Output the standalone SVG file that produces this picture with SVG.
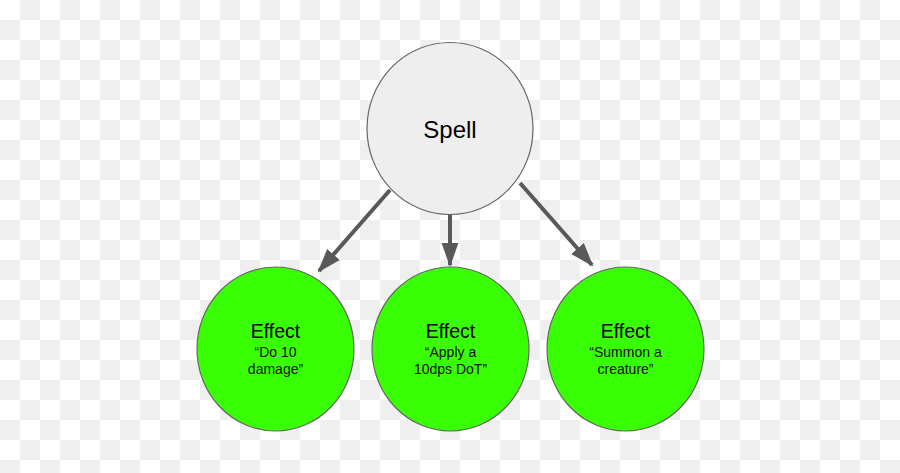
<svg xmlns="http://www.w3.org/2000/svg" width="900" height="473" viewBox="0 0 900 473">
<defs>
<pattern id="chk" x="0" y="0" width="40" height="40" patternUnits="userSpaceOnUse">
<rect x="0" y="0" width="40" height="40" fill="#ffffff"/>
<rect x="20" y="0" width="20" height="20" fill="#efefef"/>
<rect x="0" y="20" width="20" height="20" fill="#efefef"/>
</pattern>
<marker id="arr" markerWidth="6" markerHeight="6" refX="5.5" refY="3" orient="auto" markerUnits="strokeWidth" viewBox="0 0 6 6">
<path d="M0,0.9 L6,3 L0,5.1 Z" fill="#595959"/>
</marker>
</defs>
<style>
.edge{stroke:#595959;stroke-width:4;fill:none}
.spell{fill:#eeeeee;stroke:#666666;stroke-width:1.2}
.eff{fill:#39ff05;stroke:#666666;stroke-width:1.2}
.t{font-family:"Liberation Sans",Arial,sans-serif;text-anchor:middle;fill:#000}
.h{font-size:19.5px}
.s{font-size:14px;fill:#111}
</style>
<rect width="900" height="473" fill="url(#chk)"/>
<g id="connectors">
<line class="edge" x1="390" y1="190" x2="319" y2="271" marker-end="url(#arr)"/>
<line class="edge" x1="450" y1="214" x2="450" y2="265" marker-end="url(#arr)"/>
<line class="edge" x1="520" y1="183" x2="592" y2="265" marker-end="url(#arr)"/>
</g>
<g id="spell">
<ellipse class="spell" cx="450" cy="128.5" rx="83" ry="86"/>
<text class="t" x="450" y="138" font-size="24">Spell</text>
</g>
<g id="effect1">
<ellipse class="eff" cx="275.5" cy="349" rx="78.5" ry="82"/>
<text class="t h" x="275.5" y="338">Effect</text>
<text class="t s" x="275.5" y="357">“Do 10</text>
<text class="t s" x="275.5" y="374">damage”</text>
</g>
<g id="effect2">
<ellipse class="eff" cx="450.5" cy="349" rx="78.5" ry="82"/>
<text class="t h" x="450.5" y="338">Effect</text>
<text class="t s" x="450.5" y="357">“Apply a</text>
<text class="t s" x="450.5" y="374">10dps DoT”</text>
</g>
<g id="effect3">
<ellipse class="eff" cx="625.5" cy="349" rx="78.5" ry="82"/>
<text class="t h" x="625.5" y="338">Effect</text>
<text class="t s" x="625.5" y="357">“Summon a</text>
<text class="t s" x="625.5" y="374">creature”</text>
</g>
</svg>
